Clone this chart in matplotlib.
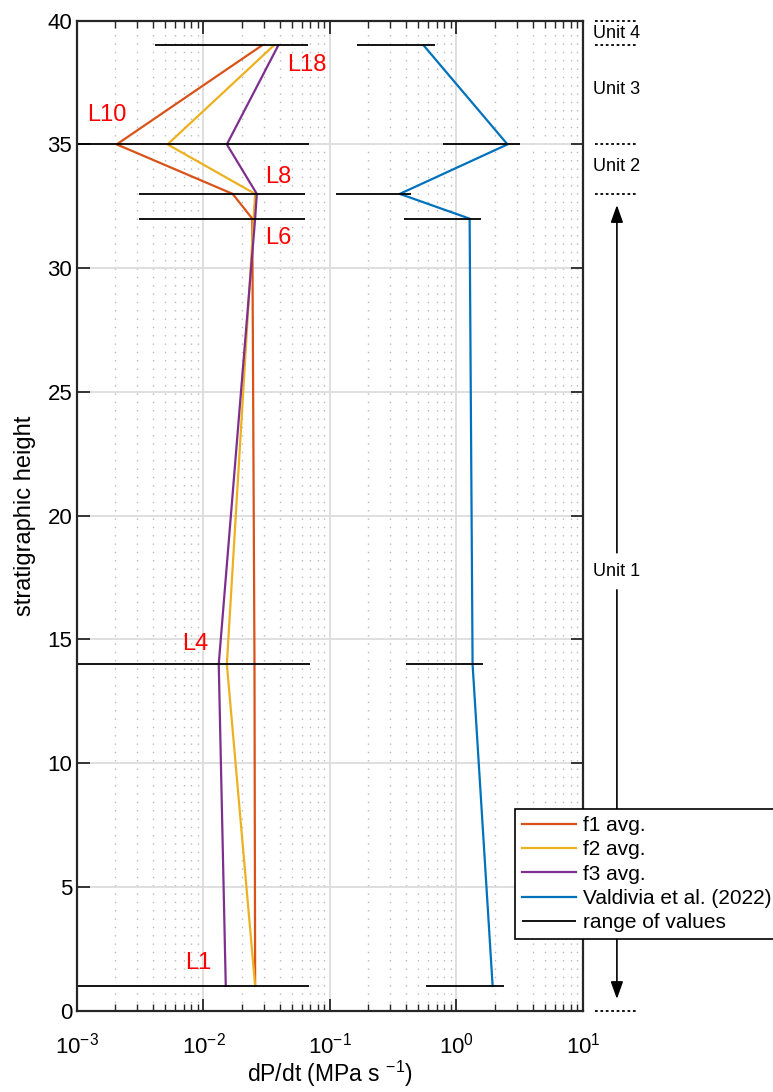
import matplotlib
matplotlib.use("Agg")
import matplotlib.pyplot as plt
import matplotlib.transforms as mtransforms
from matplotlib.ticker import LogLocator, NullLocator, MultipleLocator

plt.rcParams['font.family'] = ['Liberation Sans', 'DejaVu Sans']
plt.rcParams['mathtext.fontset'] = 'custom'
plt.rcParams['mathtext.rm'] = 'Liberation Sans'
plt.rcParams['mathtext.it'] = 'Liberation Sans:italic'

# stratigraphic heights of the sampled layers
heights = [1, 14, 32, 33, 35, 39]

# average dP/dt (MPa/s)
f1_avg = [0.0256, 0.0253, 0.0243, 0.017, 0.00206, 0.029]
f2_avg = [0.0256, 0.0153, 0.0249, 0.0256, 0.0052, 0.036]
f3_avg = [0.0150, 0.0132, 0.0256, 0.0264, 0.0153, 0.039]
valdivia = [1.93, 1.34, 1.27, 0.356, 2.53, 0.55]

# range of values
f_low = [0.0005, 0.0005, 0.0031, 0.0031, 0.0005, 0.0041]
f_high = [0.068, 0.0698, 0.0635, 0.0635, 0.068, 0.0676]
v_low = [0.575, 0.398, 0.386, 0.112, 0.789, 0.163]
v_high = [2.38, 1.63, 1.57, 0.437, 3.19, 0.674]

# layer labels
layer_names = ['L1', 'L4', 'L6', 'L8', 'L10', 'L18']
layer_x = [0.0091, 0.0086, 0.0392, 0.0392, 0.00173, 0.0655]
layer_y = [1.94, 14.8, 31.2, 33.7, 36.2, 38.2]

# stratigraphic units
unit_bounds = [0, 33, 35, 39, 40]
unit_names = ['Unit 1', 'Unit 2', 'Unit 3', 'Unit 4']
unit_y = [17.74, 34.1, 37.2, 39.5]

fig = plt.figure(figsize=(7.73, 10.92), dpi=100)
ax = fig.add_axes([0.0996, 0.0745, 0.6546, 0.9066])

lw = 1.6
ax.plot(f1_avg, heights, color='#D95319', lw=lw, label='f1 avg.')
ax.plot(f2_avg, heights, color='#EDB120', lw=lw, label='f2 avg.')
ax.plot(f3_avg, heights, color='#7E2F8E', lw=lw, label='f3 avg.')
ax.plot(valdivia, heights, color='#0072BD', lw=lw, label='Valdivia et al. (2022)')
ax.hlines(heights, f_low, f_high, color='k', lw=1.3, label='range of values')
ax.hlines(heights, v_low, v_high, color='k', lw=1.3)

for name, x, y in zip(layer_names, layer_x, layer_y):
    ax.text(x, y, name, color='#FF0000', fontsize=17, ha='center', va='center')

ax.set_xscale('log')
ax.set_xlim(1e-3, 1e1)
ax.set_ylim(0, 40)
ax.yaxis.set_major_locator(MultipleLocator(5))
ax.yaxis.set_minor_locator(NullLocator())
ax.xaxis.set_major_locator(LogLocator(base=10, numticks=10))
ax.xaxis.set_minor_locator(LogLocator(base=10, subs=range(2, 10), numticks=20))

ax.grid(True, which='major', color='#dcdcdc', lw=1.3)
ax.xaxis.grid(True, which='minor', color='#b8b8b8', lw=1.0, ls=(0, (1, 5)))
ax.set_axisbelow(True)

ax.tick_params(which='both', direction='in', top=True, right=True,
               color='#262626', labelsize=16)
ax.tick_params(which='major', length=9, width=1.3)
ax.tick_params(which='minor', length=5, width=1.0)
ax.tick_params(axis='x', pad=16)
for s in ax.spines.values():
    s.set_linewidth(1.6)
    s.set_color('#262626')

ax.set_xlabel('dP/dt (MPa s $^{-1}$)', fontsize=16.5, labelpad=0)
ax.set_ylabel('stratigraphic height', fontsize=17, labelpad=8)

leg = ax.legend(loc='upper left', bbox_to_anchor=(0.8656, 0.2037),
                borderaxespad=0, fontsize=15, frameon=True, fancybox=False,
                edgecolor='k', framealpha=1, labelspacing=0.25,
                handlelength=2.6, handletextpad=0.3, borderpad=0.35)
leg.get_frame().set_linewidth(1.2)

# unit annotations to the right of the axes
trans = mtransforms.blended_transform_factory(ax.transAxes, ax.transData)
for b in unit_bounds:
    ax.plot([1.0237, 1.1087], [b, b], transform=trans, clip_on=False,
            color='k', lw=1.3, ls=(0, (1.5, 1.5)))
for name, y in zip(unit_names, unit_y):
    ax.text(1.067, y, name, transform=trans, fontsize=13,
            ha='center', va='center', clip_on=False)

arrow = dict(arrowstyle='-|>,head_length=0.7,head_width=0.25', color='k',
             lw=1.2, mutation_scale=15, shrinkA=0, shrinkB=0)
ax.annotate('', xy=(1.067, 32.55), xytext=(1.067, 18.5),
            xycoords=trans, textcoords=trans, arrowprops=arrow,
            annotation_clip=False)
ax.annotate('', xy=(1.067, 0.47), xytext=(1.067, 17.0),
            xycoords=trans, textcoords=trans, arrowprops=arrow,
            annotation_clip=False)

fig.savefig('out.png', dpi=100)
